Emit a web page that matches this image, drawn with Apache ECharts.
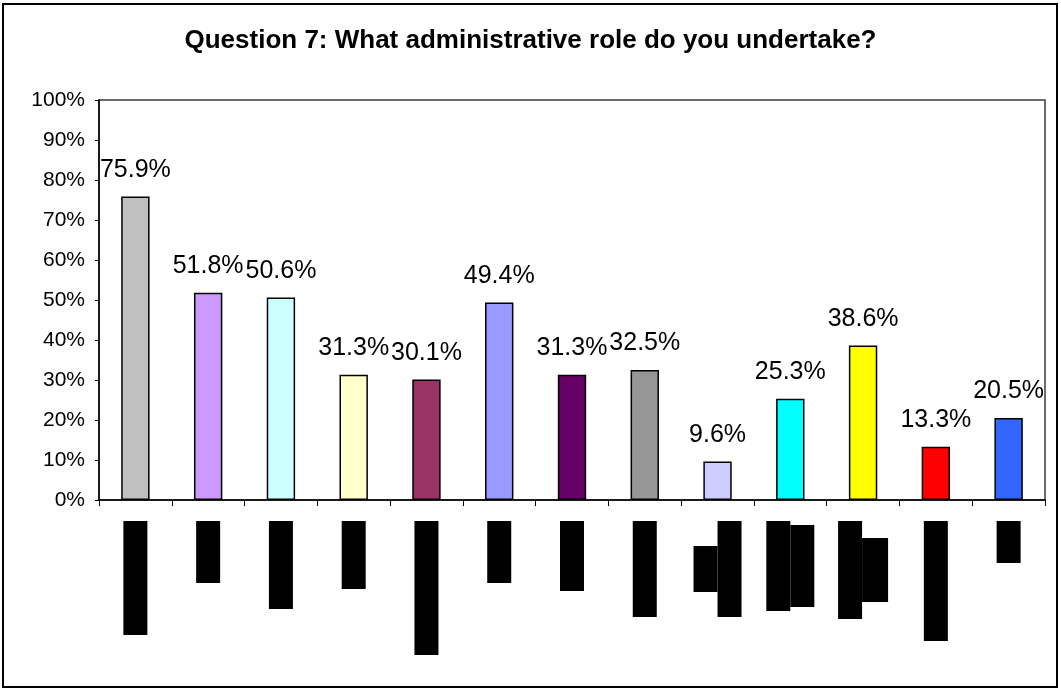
<!DOCTYPE html>
<html>
<head>
<meta charset="utf-8">
<script src="https://cdn.jsdelivr.net/npm/echarts@6/dist/echarts.min.js"></script>
<style>
  html, body { margin: 0; padding: 0; background: #fff; }
  #chart { width: 1061px; height: 689px; }
</style>
</head>
<body>
<div id="chart"></div>
<script>
// Survey question and answer shares (percent of respondents)
const titleText = 'Question 7: What administrative role do you undertake?';
const categories = ['Role 1', 'Role 2', 'Role 3', 'Role 4', 'Role 5', 'Role 6', 'Role 7',
                    'Role 8', 'Role 9', 'Role 10', 'Role 11', 'Role 12', 'Role 13'];
const shares = [75.9, 51.8, 50.6, 31.3, 30.1, 49.4, 31.3, 32.5, 9.6, 25.3, 38.6, 13.3, 20.5];
const yTickLabels = ['0%', '10%', '20%', '30%', '40%', '50%', '60%', '70%', '80%', '90%', '100%'];

// Fill colour per bar (classic spreadsheet palette)
const barColors = ['#C0C0C0', '#CC99FF', '#CCFFFF', '#FFFFCC', '#993366', '#9999FF', '#660066',
                   '#969696', '#CCCCFF', '#00FFFF', '#FFFF00', '#FF0000', '#3366FF'];

// Category names are blacked out: one or two solid blocks per label, [width, height] each
const redactBlocks = [
  [[24, 114]], [[24, 62]], [[24, 88]], [[24, 68]], [[24, 134]], [[24, 62]], [[24, 70]],
  [[24, 96]], [[24, 46], [24, 96]], [[24, 90], [24, 82]], [[24, 98], [26, 64]],
  [[24, 120]], [[24, 42]]
];

const rich = {};
redactBlocks.forEach((blocks, i) => {
  blocks.forEach((b, j) => {
    rich['k' + i + '_' + j] = {
      width: b[0], height: b[1], backgroundColor: '#000', color: '#000',
      fontSize: 1, lineHeight: b[1], verticalAlign: 'middle'
    };
  });
});

const chart = echarts.init(document.getElementById('chart'), null, { renderer: 'canvas' });
const font = 'Arial, "Liberation Sans", sans-serif';

chart.setOption({
  animation: false,
  backgroundColor: '#fff',
  title: {
    text: titleText,
    left: 'center',
    top: 23,
    textStyle: { fontFamily: font, fontSize: 26, fontWeight: 'bold', color: '#000' }
  },
  grid: {
    left: 99, right: 16, top: 100, bottom: 189,
    show: true, borderColor: '#3a3a3a', borderWidth: 1.5, backgroundColor: 'transparent'
  },
  xAxis: {
    type: 'category',
    data: categories,
    axisLine: { lineStyle: { color: '#000', width: 1.5 } },
    axisTick: { show: true, length: 6, lineStyle: { color: '#000' } },
    axisLabel: {
      interval: 0,
      margin: 21,
      formatter: (value, idx) => redactBlocks[idx].map((_, j) => '{k' + idx + '_' + j + '| }').join(''),
      rich: rich
    },
    splitLine: { show: false }
  },
  yAxis: {
    type: 'value',
    min: 0, max: 100, interval: 10,
    axisLine: { show: true, lineStyle: { color: '#000', width: 1.5 } },
    axisTick: { show: true, length: 4, lineStyle: { color: '#000' } },
    axisLabel: {
      margin: 14,
      fontFamily: font, fontSize: 21, color: '#000',
      formatter: v => yTickLabels[Math.round(v / 10)]
    },
    splitLine: { show: false }
  },
  series: [{
    type: 'bar',
    data: shares.map((v, i) => ({ value: v, itemStyle: { color: barColors[i] } })),
    barCategoryGap: '61%',
    itemStyle: { borderColor: '#000', borderWidth: 1.5 },
    label: {
      show: true,
      position: 'top',
      distance: 14,
      fontFamily: font, fontSize: 25, color: '#000',
      formatter: p => p.value.toFixed(1) + '%'
    }
  }],
  graphic: [{
    type: 'rect',
    shape: { x: 3, y: 4, width: 1054, height: 683 },
    style: { fill: 'none', stroke: '#000', lineWidth: 2 },
    silent: true
  }]
});
</script>
</body>
</html>
